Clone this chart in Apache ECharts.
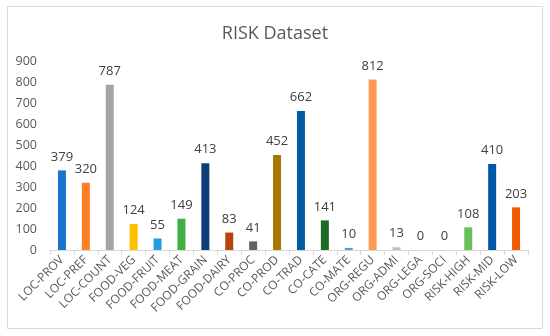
<!DOCTYPE html>
<html><head><meta charset="utf-8">
<script src="https://cdn.jsdelivr.net/npm/echarts@6/dist/echarts.min.js"></script>
<style>html,body{margin:0;padding:0;background:#fff}#c{width:550px;height:336px}</style>
</head><body><div id="c"></div>
<script>
const categories = ["LOC-PROV","LOC-PREF","LOC-COUNT","FOOD-VEG","FOOD-FRUIT","FOOD-MEAT","FOOD-GRAIN","FOOD-DAIRY","CO-PROC","CO-PROD","CO-TRAD","CO-CATE","CO-MATE","ORG-REGU","ORG-ADMI","ORG-LEGA","ORG-SOCI","RISK-HIGH","RISK-MID","RISK-LOW"];
const values = [379,320,787,124,55,149,413,83,41,452,662,141,10,812,13,0,0,108,410,203];
const colors = ["#1874CD","#FF7F27","#A5A5A5","#FFC000","#1E9FE0","#3CB043","#0B3D78","#B5450B","#636363","#A67800","#005C9E","#1E6B28","#5B9BD5","#FF9955","#BFBFBF","#BFBFBF","#BFBFBF","#6CC05C","#0057A8","#F05A00"];
const chart = echarts.init(document.getElementById('c'));
chart.setOption({
  animation:false,
  title:{text:'RISK Dataset',left:'center',top:20,textStyle:{fontFamily:'Open Sans',fontSize:18,fontWeight:'normal',color:'#595959'}},
  graphic:[{type:'rect',shape:{x:7.5,y:6.5,width:535,height:322},style:{fill:'none',stroke:'#D9D9D9',lineWidth:1}}],
  grid:{left:50,right:22,top:61,bottom:86},
  xAxis:{type:'category',data:categories,
    axisLine:{lineStyle:{color:'#D9D9D9'}},
    axisTick:{show:true,length:5,lineStyle:{color:'#D9D9D9'}},
    axisLabel:{rotate:45,interval:0,fontFamily:'Open Sans',fontSize:12,color:'#595959',margin:8}},
  yAxis:{type:'value',min:0,max:900,interval:100,
    splitLine:{show:false},axisLine:{show:false},axisTick:{show:false},
    axisLabel:{fontFamily:'Open Sans',fontSize:12.5,color:'#595959',margin:13}},
  series:[{type:'bar',barWidth:8,
    data:values.map((v,i)=>({value:v,itemStyle:{color:colors[i]}})),
    label:{show:true,position:'top',distance:7,fontFamily:'Open Sans',fontSize:13,color:'#404040'}}]
});
</script></body></html>
